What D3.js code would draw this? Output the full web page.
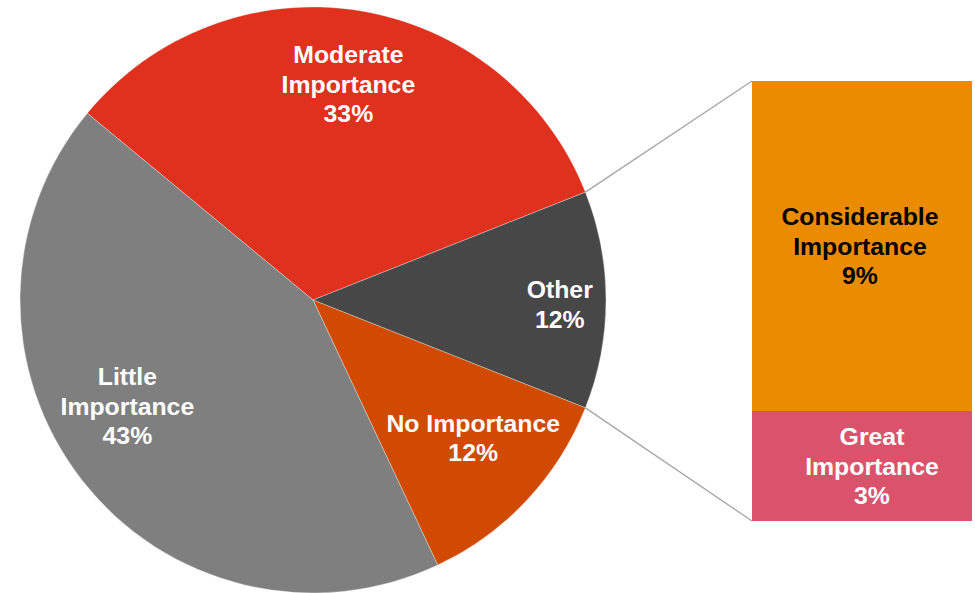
<!DOCTYPE html>
<html>
<head>
<meta charset="utf-8">
<script src="https://cdn.jsdelivr.net/npm/d3@7"></script>
<style>
  html, body { margin: 0; padding: 0; background: #ffffff; }
  svg { display: block; }
  text { font-family: "Liberation Sans", Arial, sans-serif; font-weight: bold; }
</style>
</head>
<body>
<svg id="chart" width="975" height="593"></svg>
<script>
// Pie slices (percent of responses)
const pieCategories = ["Moderate Importance", "Other", "No Importance", "Little Importance"];
const pieValues = [33, 12, 12, 43];
const pieColors = ["#E0301E", "#474747", "#D04A02", "#7F7F7F"];

// Breakdown of the "Other" slice, shown as a stacked bar
const barCategories = ["Considerable Importance", "Great Importance"];
const barValues = [9, 3];
const barColors = ["#EB8C00", "#DB536A"];
const barTextColors = ["#000000", "#ffffff"];

// Layout
const W = 975, H = 593;
const cx = 313, cy = 300, R = 293;
const bar = { x0: 752, x1: 972, y0: 81, y1: 521 };
const fontSize = 24.8, lineH = 29.5;

// Small nudges so labels sit where they read best inside each slice
const pieLabelNudge = {
  "Moderate Importance": [1, 1],
  "Other": [27, 4],
  "No Importance": [0, -13],
  "Little Importance": [-12, -29]
};
const barLabelNudge = {
  "Considerable Importance": [-2, 0],
  "Great Importance": [10, 0]
};

const svg = d3.select("#chart");

// Start so that the "Other" slice is centred on 3 o'clock
const total = d3.sum(pieValues);
const otherIdx = pieCategories.indexOf("Other");
const before = d3.sum(pieValues.slice(0, otherIdx)) + pieValues[otherIdx] / 2;
const start = Math.PI / 2 - (before / total) * 2 * Math.PI;

const pie = d3.pie().sort(null).value(d => d.value)
  .startAngle(start).endAngle(start + 2 * Math.PI);

const pieData = pieCategories.map((c, i) => ({ name: c, value: pieValues[i], color: pieColors[i] }));
const arcs = pie(pieData);

const arc = d3.arc().innerRadius(0).outerRadius(R);
const labelArc = d3.arc().innerRadius(R * 0.75).outerRadius(R * 0.75);

const g = svg.append("g").attr("transform", `translate(${cx},${cy})`);

g.selectAll("path.slice")
  .data(arcs)
  .join("path")
  .attr("class", "slice")
  .attr("d", arc)
  .attr("fill", d => d.data.color)
  .attr("stroke", "#ffffff")
  .attr("stroke-opacity", 0.45)
  .attr("stroke-width", 0.7);

function multiline(sel, lines, x, yMid, color) {
  const n = lines.length;
  const t = sel.append("text")
    .attr("text-anchor", "middle")
    .attr("font-size", fontSize)
    .attr("fill", color);
  lines.forEach((ln, i) => {
    t.append("tspan")
      .attr("x", x)
      .attr("y", yMid + (i - (n - 1) / 2) * lineH + fontSize * 0.358)
      .text(ln);
  });
}

function splitLabel(name, value) {
  const words = name.split(" ");
  if (name === "No Importance" || words.length === 1) return [name, value + "%"];
  return [...words, value + "%"];
}

arcs.forEach(a => {
  const [lx, ly] = labelArc.centroid(a);
  const nudge = pieLabelNudge[a.data.name] || [0, 0];
  multiline(g, splitLabel(a.data.name, a.data.value), lx + nudge[0], ly + nudge[1], "#ffffff");
});

// Stacked bar for the breakdown of "Other"
const yBar = d3.scaleLinear().domain([0, d3.sum(barValues)]).range([bar.y0, bar.y1]);
const stacks = [];
let acc = 0;
barValues.forEach((v, i) => { stacks.push({ name: barCategories[i], value: v, a: acc, b: acc + v, color: barColors[i], text: barTextColors[i] }); acc += v; });

svg.selectAll("rect.seg")
  .data(stacks)
  .join("rect")
  .attr("class", "seg")
  .attr("x", bar.x0)
  .attr("width", bar.x1 - bar.x0)
  .attr("y", d => yBar(d.a))
  .attr("height", d => yBar(d.b) - yBar(d.a))
  .attr("fill", d => d.color);

stacks.forEach(s => {
  const nudge = barLabelNudge[s.name] || [0, 0];
  const mx = (bar.x0 + bar.x1) / 2 + nudge[0];
  const my = (yBar(s.a) + yBar(s.b)) / 2 + nudge[1];
  multiline(svg, [...s.name.split(" "), s.value + "%"], mx, my, s.text);
});

// Connector lines from the "Other" slice edges to the bar corners
const otherArc = arcs[otherIdx];
const edge = ang => [cx + R * Math.sin(ang), cy - R * Math.cos(ang)];
const pTop = edge(otherArc.startAngle);
const pBot = edge(otherArc.endAngle);
svg.append("line")
  .attr("x1", pTop[0]).attr("y1", pTop[1])
  .attr("x2", bar.x0).attr("y2", bar.y0)
  .attr("stroke", "#A5A5A5").attr("stroke-width", 1.3);
svg.append("line")
  .attr("x1", pBot[0]).attr("y1", pBot[1])
  .attr("x2", bar.x0).attr("y2", bar.y1)
  .attr("stroke", "#A5A5A5").attr("stroke-width", 1.3);
</script>
</body>
</html>
